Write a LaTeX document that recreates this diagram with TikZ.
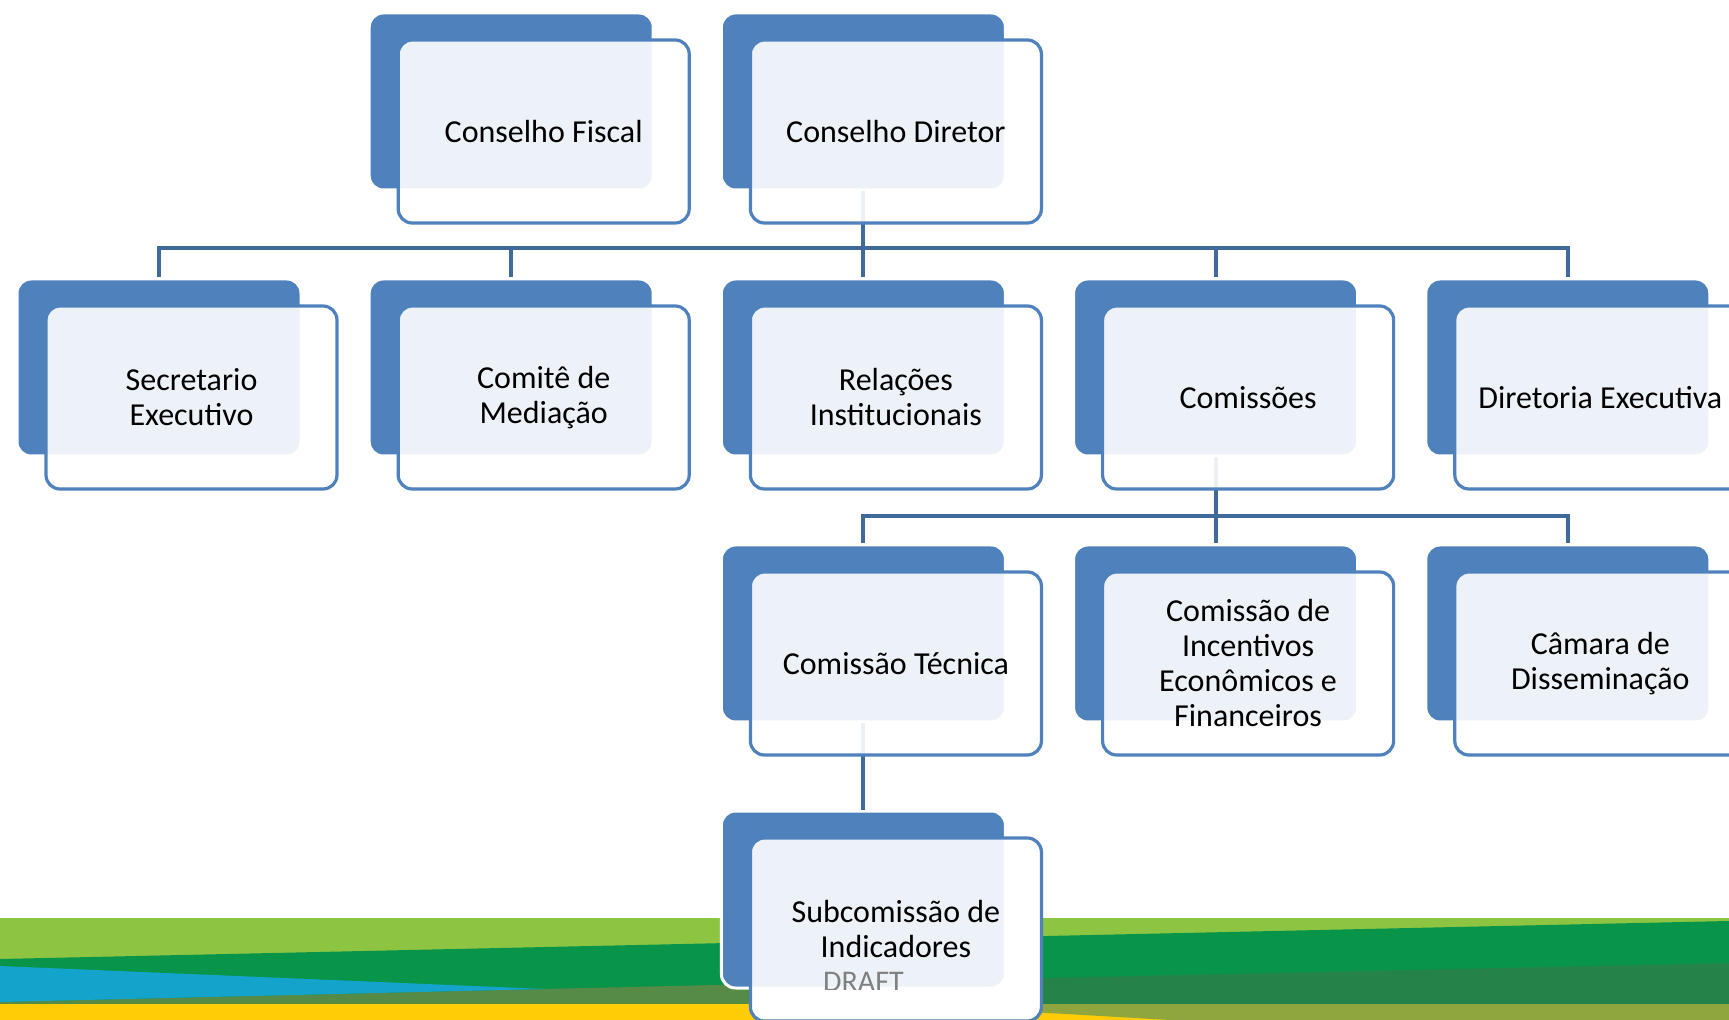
\documentclass[tikz,border=0pt]{standalone}
\usepackage{fontspec}
\setmainfont{Carlito}
\definecolor{smartblue}{HTML}{4F81BD}
\definecolor{linkblue}{HTML}{416A9C}
\definecolor{leafgreen}{HTML}{8DC543}
\definecolor{flaggreen}{HTML}{08954A}
\definecolor{deepgreen}{HTML}{258249}
\definecolor{mossgreen}{HTML}{568A47}
\definecolor{olivegreen}{HTML}{8EA63D}
\definecolor{skyblue}{HTML}{13A3CB}
\definecolor{flagyellow}{HTML}{FFCC05}
\tikzset{
  backbox/.style={rectangle, rounded corners=7pt, fill=smartblue, draw=white, line width=1.5pt,
    minimum width=142pt, minimum height=88.5pt, inner sep=0pt},
  frontbox/.style={rectangle, rounded corners=7pt, draw=smartblue, line width=1.6pt,
    fill=white, fill opacity=0.9, text opacity=1, minimum width=145.5pt, minimum height=91.5pt,
    align=center, font=\fontsize{16}{17.5}\selectfont},
  link/.style={draw=linkblue, line width=2pt},
}
\begin{document}
\begin{tikzpicture}[x=0.5pt,y=-0.5pt]
\fill[white] (0,0) rectangle (1729,1020);
\useasboundingbox (0,0) rectangle (1729,1020);
% faixas do rodape
\fill[leafgreen] (0,918) rectangle (1729,1020);
\fill[flaggreen] (0,959) -- (1729,921) -- (1729,1020) -- (0,1020) -- cycle;
\fill[deepgreen] (545,989) -- (1729,963) -- (1729,1004) -- (545,1004) -- cycle;
\fill[mossgreen] (0,1002) -- (545,989) -- (760,984) -- (760,1004) -- (0,1004) -- cycle;
\fill[skyblue] (0,966) -- (545,989) -- (0,1002) -- cycle;
\fill[flagyellow] (0,1004) rectangle (1729,1020);
\fill[olivegreen] (892,1004) -- (1729,1004) -- (1729,1020) -- (1170,1020) -- cycle;
\node[frontbox, draw=none, fill opacity=1] (subcom-pad) at (895.9,929.5){};
% caixas de fundo
\node[backbox] (fiscal-bk) at (511.2,101.5){};
\node[backbox] (diretor-bk) at (863.4,101.5){};
\node[backbox] (secretario-bk) at (159,367.5){};
\node[backbox] (mediacao-bk) at (511.2,367.5){};
\node[backbox] (relacoes-bk) at (863.4,367.5){};
\node[backbox] (comissoes-bk) at (1215.6,367.5){};
\node[backbox] (diretoria-bk) at (1567.8,367.5){};
\node[backbox] (tecnica-bk) at (863.4,633.5){};
\node[backbox] (incentivos-bk) at (1215.6,633.5){};
\node[backbox] (camara-bk) at (1567.8,633.5){};
\node[backbox] (subcom-bk) at (863.4,899.5){};
% ligacoes
\coordinate (bus1) at (863.4,248);
\coordinate (bus2) at (1215.6,516);
\draw[link] (diretor-bk.south) -- (bus1);
\foreach \n in {secretario,mediacao,relacoes,comissoes,diretoria}
  \draw[link] (bus1) -| (\n-bk.north);
\draw[link] (comissoes-bk.south) -- (bus2);
\foreach \n in {tecnica,incentivos,camara}
  \draw[link] (bus2) -| (\n-bk.north);
\draw[link] (tecnica-bk.south) -- (subcom-bk.north);
% caixas da frente
\node[frontbox] (fiscal) at (543.7,131.5){Conselho Fiscal};
\node[frontbox] (diretor) at (895.9,131.5){Conselho Diretor};
\node[frontbox] (secretario) at (191.5,397.5){Secretario\\Executivo};
\node[frontbox] (mediacao) at (543.7,397.5){Comitê de\\Mediação};
\node[frontbox] (relacoes) at (895.9,397.5){Relações\\Institucionais};
\node[frontbox] (comissoes) at (1248.1,397.5){Comissões};
\node[frontbox] (diretoria) at (1600.3,397.5){Diretoria Executiva};
\node[frontbox] (tecnica) at (895.9,663.5){Comissão Técnica};
\node[frontbox] (incentivos) at (1248.1,663.5){Comissão de\\Incentivos\\Econômicos e\\Financeiros};
\node[frontbox] (camara) at (1600.3,663.5){Câmara de\\Disseminação};
\node[frontbox] (subcom) at (895.9,929.5){Subcomissão de\\Indicadores};
\begin{scope}
\clip (subcom-bk.north west) rectangle (subcom-bk.south east);
\node[text=gray, anchor=base, font=\fontsize{15}{17}\selectfont] (draft) at (863.4,991){DRAFT};
\end{scope}
\end{tikzpicture}
\end{document}
